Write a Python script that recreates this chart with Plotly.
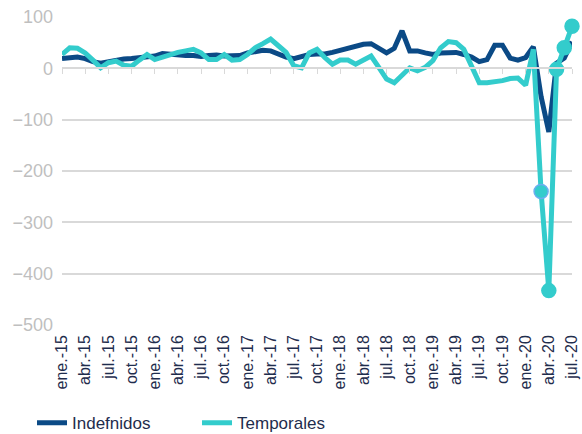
import plotly.graph_objects as go

# monthly, ene.-15 .. jul.-20
MESES = ["ene.", "feb.", "mar.", "abr.", "may.", "jun.", "jul.", "ago.", "sep.", "oct.", "nov.", "dic."]
fechas = [f"{MESES[m]}-{a}" for a in range(15, 21) for m in range(12)][:67]

indefinidos = [19, 20, 22, 19, 13, 10, 13, 17, 18, 19, 20, 21,
               24, 29, 27, 25, 25, 25, 23, 25, 26, 24, 24, 25,
               30, 33, 35, 34, 28, 22, 19, 23, 27, 28, 28, 31,
               35, 40, 45, 47, 48, 40, 30, 39, 73, 34, 34, 30,
               27, 30, 31, 31, 27, 22, 13, 17, 45, 45, 20, 16,
               21, 42, -55, -124, 10, 20, 52]

temporales = [27, 40, 39, 30, 16, 1, 11, 14, 6, 4, 16, 27,
              17, 22, 28, 31, 34, 37, 30, 17, 17, 27, 16, 17,
              27, 40, 48, 57, 44, 31, 5, 1, 30, 37, 21, 8,
              16, 16, 8, 15, 24, 2, -21, -28, -14, 1, -5, 2,
              15, 40, 52, 50, 37, 2, -28, -28, -27, -24, -20, -19,
              -33, 37, -240, -433, -2, 40, 82]

# last five months carry markers
n_marcados = 5

C_INDEF = "#0b4a86"
C_TEMP = "#33cccc"
GRID = "#d9d9d9"

x = list(range(len(fechas)))
tickvals = x[::3]
ticktext = fechas[::3]

fig = go.Figure()
# dummy trace so the zero-axis (xaxis2) with its tick marks is drawn
fig.add_trace(go.Scatter(x=[0], y=[0], xaxis="x2", mode="markers",
                         marker=dict(opacity=0), showlegend=False, hoverinfo="skip"))
fig.add_trace(go.Scatter(
    x=x, y=indefinidos, name="Indefnidos", mode="lines",
    line=dict(color=C_INDEF, width=5),
))
fig.add_trace(go.Scatter(
    x=x, y=temporales, name="Temporales", mode="lines",
    line=dict(color=C_TEMP, width=5),
))
fig.add_trace(go.Scatter(
    x=x[-n_marcados:], y=temporales[-n_marcados:], mode="markers",
    marker=dict(color=C_TEMP, size=14,
                line=dict(color=["#6aaef0"] + [C_TEMP] * (n_marcados - 1), width=1.5)),
    showlegend=False, cliponaxis=False,
))

fig.update_layout(
    width=582, height=434,
    margin=dict(l=62, r=10, t=17, b=109, autoexpand=False),
    plot_bgcolor="white", paper_bgcolor="white",
    font=dict(family="Liberation Sans, Arial, sans-serif"),
    showlegend=True,
    legend=dict(orientation="h", x=0.055, y=0.025, xref="container", yref="container",
                xanchor="left", yanchor="middle",
                font=dict(size=17, color="#1f2d4d"), entrywidth=120),
    xaxis=dict(range=[0, len(x) - 1], tickvals=tickvals, ticktext=ticktext,
               tickangle=-90, tickfont=dict(size=16, color="#1f2d4d"),
               showgrid=False, zeroline=False, showline=False, ticks="",
               ticklabelstandoff=6, automargin=False),
    xaxis2=dict(range=[0, len(x) - 1], overlaying="x", anchor="free", position=5 / 6,
                tickvals=tickvals, showticklabels=False, ticks="outside", ticklen=5,
                tickcolor=GRID, showline=True, linecolor=GRID, linewidth=1.5,
                showgrid=False, zeroline=False, automargin=False),
    yaxis=dict(range=[-500, 100], dtick=100, gridcolor=GRID, gridwidth=1.5,
               zeroline=False, tickfont=dict(size=18, color="#bfbfbf"), ticks="",
               ticklabelstandoff=8, automargin=False),
)

# the page body has a default 8px margin; drop it so the figure fills the window
fig.write_html("out.html", config={"displayModeBar": False},
               post_script="document.body.style.margin='0';document.body.style.overflow='hidden';")
